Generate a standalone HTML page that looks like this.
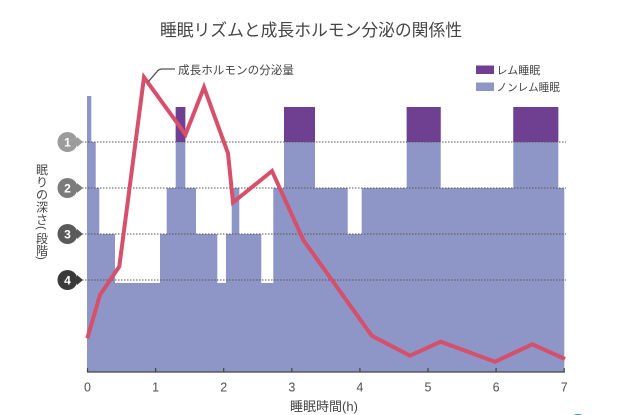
<!DOCTYPE html>
<html><head><meta charset="utf-8">
<style>
html,body{margin:0;padding:0;background:#fff;}
svg{display:block;}
text{font-family:"Liberation Sans","Noto Sans CJK JP",sans-serif;}
</style></head>
<body>
<svg width="640" height="415" viewBox="0 0 640 415" xmlns="http://www.w3.org/2000/svg">
<rect width="640" height="415" fill="#fff"/>
<!-- title -->
<text x="311" y="36" font-size="16.8" fill="#454545" text-anchor="middle">睡眠リズムと成長ホルモン分泌の関係性</text>

<!-- sleep profile fill -->
<path fill="#8e95c7" d="M87,372 L87,96 L91.3,96 L91.3,142 L95.7,142 L95.7,188 L99.3,188 L99.3,234 L115,234 L115,283 L160,283 L160,234 L166.7,234 L166.7,188 L175.7,188 L175.7,107 L185.3,107 L185.3,188 L196,188 L196,234 L217.3,234 L217.3,283 L226,283 L226,234 L231.7,234 L231.7,188 L239.3,188 L239.3,234 L261.3,234 L261.3,283 L273.3,283 L273.3,188 L284,188 L284,107 L315,107 L315,188 L347.7,188 L347.7,234 L361.7,234 L361.7,188 L406.7,188 L406.7,107 L440.7,107 L440.7,188 L513.3,188 L513.3,107 L558.3,107 L558.3,188 L564.3,188 L564.3,372 Z"/>
<!-- REM blocks -->
<g fill="#6f3f91">
<rect x="175.7" y="107" width="9.6" height="35"/>
<rect x="284" y="107" width="31" height="35"/>
<rect x="406.7" y="107" width="34" height="35"/>
<rect x="513.3" y="107" width="45" height="35"/>
</g>

<!-- dotted level lines -->
<g stroke="#555" stroke-width="1" stroke-dasharray="1.5,1.5">
<line x1="82" y1="142" x2="566" y2="142"/>
<line x1="82" y1="188" x2="566" y2="188"/>
<line x1="82" y1="234" x2="566" y2="234"/>
<line x1="82" y1="280" x2="566" y2="280"/>
</g>

<!-- level markers -->
<g font-size="12" font-weight="bold" fill="#fff" text-anchor="middle">
<path d="M77,137 L83,142 L77,147 Z" fill="#9c9c9c"/>
<circle cx="67.5" cy="142" r="10" fill="#9c9c9c"/>
<text x="67.5" y="146.5">1</text>
<path d="M77,183 L83,188 L77,193 Z" fill="#7b7b7b"/>
<circle cx="67.5" cy="188" r="10" fill="#7b7b7b"/>
<text x="67.5" y="192.5">2</text>
<path d="M77,229 L83,234 L77,239 Z" fill="#5a5a5a"/>
<circle cx="67.5" cy="234" r="10" fill="#5a5a5a"/>
<text x="67.5" y="238.5">3</text>
<path d="M77,275 L83,280 L77,285 Z" fill="#3a3a3a"/>
<circle cx="67.5" cy="280" r="10" fill="#3a3a3a"/>
<text x="67.5" y="284.5">4</text>
</g>

<!-- y axis vertical label -->
<g font-size="12" fill="#454545" text-anchor="middle">
<text x="42" y="174">眠</text>
<text x="42" y="186.5">り</text>
<text x="42" y="199">の</text>
<text x="42" y="211.5">深</text>
<text x="42" y="224">さ</text>
<text x="42" y="232" transform="rotate(90 42 228)" font-size="11">(</text>
<text x="42" y="243">段</text>
<text x="42" y="255">階</text>
<text x="42" y="262" transform="rotate(90 42 258)" font-size="11">)</text>
</g>

<!-- growth hormone line -->
<polyline fill="none" stroke="#d6506b" stroke-width="4" stroke-linejoin="miter" stroke-miterlimit="4"
points="87.3,338.3 100,295 119.3,266.5 144,77.3 185.5,134.5 204,87.3 228,153.3 233,202.5 272,171 303.3,240 371.7,335.7 410,355.7 440.7,341.7 495,361.7 532.3,344.3 565,359"/>

<!-- hormone label -->
<path d="M148.3,81.7 L158,70.5 Q159.5,69 162,69 L175,69" fill="none" stroke="#555" stroke-width="1.3"/>
<text x="178" y="74" font-size="11.6" fill="#454545">成長ホルモンの分泌量</text>

<!-- legend -->
<rect x="476" y="65.5" width="18" height="8.5" fill="#6f3f91"/>
<text x="496.5" y="74" font-size="11" fill="#454545">レム睡眠</text>
<rect x="476" y="82.5" width="18" height="8.5" fill="#8e95c7"/>
<text x="496.5" y="91" font-size="10.6" fill="#454545">ノンレム睡眠</text>

<!-- x axis -->
<line x1="87" y1="372" x2="565" y2="372" stroke="#444" stroke-width="1.3"/>
<g stroke="#444" stroke-width="1.2">
<line x1="87.5" y1="368" x2="87.5" y2="372"/>
<line x1="155.6" y1="368" x2="155.6" y2="372"/>
<line x1="223.7" y1="368" x2="223.7" y2="372"/>
<line x1="291.8" y1="368" x2="291.8" y2="372"/>
<line x1="359.9" y1="368" x2="359.9" y2="372"/>
<line x1="428" y1="368" x2="428" y2="372"/>
<line x1="496.1" y1="368" x2="496.1" y2="372"/>
<line x1="564.2" y1="368" x2="564.2" y2="372"/>
</g>
<g font-size="12.5" fill="#505050" text-anchor="middle">
<text x="87.5" y="391.5">0</text>
<text x="155.6" y="391.5">1</text>
<text x="223.7" y="391.5">2</text>
<text x="291.8" y="391.5">3</text>
<text x="359.9" y="391.5">4</text>
<text x="428" y="391.5">5</text>
<text x="496.1" y="391.5">6</text>
<text x="564.2" y="391.5">7</text>
</g>
<text x="324" y="411" font-size="13" fill="#454545" text-anchor="middle">睡眠時間(h)</text>

<!-- partial logo at bottom right -->
<ellipse cx="578" cy="418" rx="7" ry="4" fill="#3a8fa8"/>
</svg>
</body></html>
